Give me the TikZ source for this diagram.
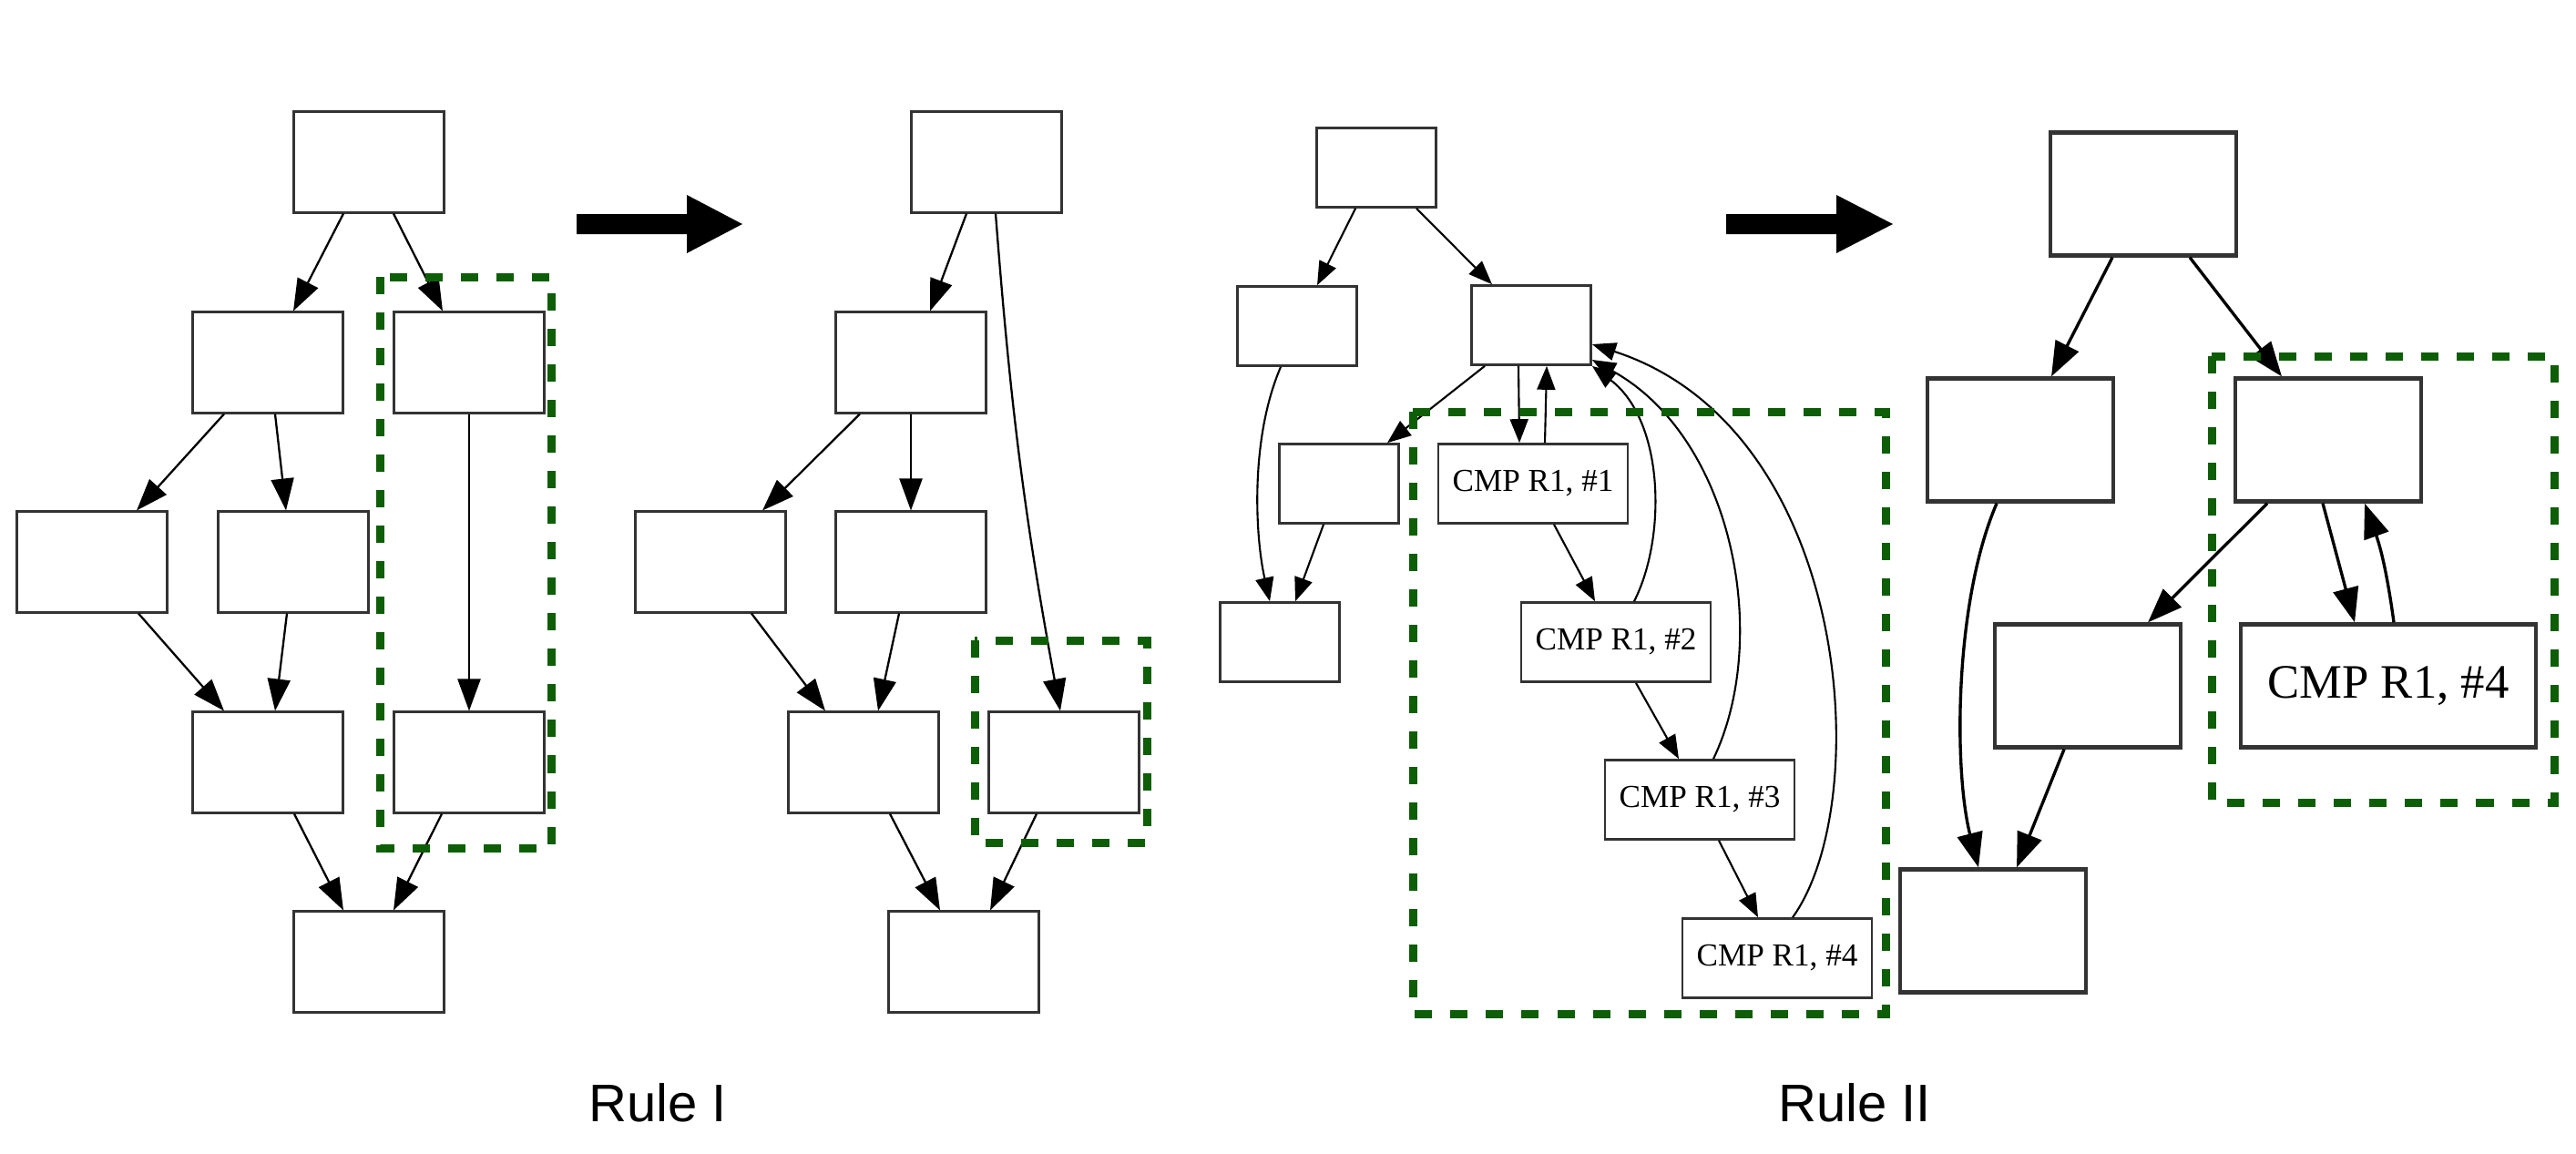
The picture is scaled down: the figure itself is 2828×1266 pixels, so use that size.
\documentclass[tikz,border=0pt]{standalone}
\usepackage{fontspec}
\setmainfont{Liberation Serif}
\newfontfamily\rulefont{Liberation Sans}
\usetikzlibrary{arrows.meta,calc}
\definecolor{groupgreen}{RGB}{14,94,8}

\begin{document}
\begin{tikzpicture}[x=0.01cm, y=-0.01cm,
	box/.style={draw=black!80, line width=0.85pt, fill=white, minimum width=1.65cm, minimum height=1.1cm, inner sep=0pt},
	smallbox/.style={box, line width=0.75pt, minimum width=1.31cm, minimum height=0.87cm},
	cmpbox/.style={smallbox, minimum width=2.08cm, font=\fontsize{10}{12}\selectfont},
	bigbox/.style={box, line width=1.2pt, minimum width=2.045cm, minimum height=1.35cm},
	bigcmp/.style={bigbox, minimum width=3.235cm, font=\fontsize{15}{18}\selectfont},
	edge/.style={-{Triangle[length=0.35cm,width=0.25cm]}, line width=0.65pt},
	smalledge/.style={-{Triangle[length=0.26cm,width=0.2cm]}, line width=0.6pt},
	bigedge/.style={-{Triangle[length=0.38cm,width=0.28cm]}, line width=0.95pt},
	group/.style={draw=groupgreen, line width=0.09cm, dash pattern=on 0.19cm off 0.2cm},
	bigarrow/.style={fill=black},
	rulelabel/.style={anchor=base, font=\rulefont\fontsize{16.5}{20}\selectfont}]
	\useasboundingbox (0,0) rectangle (2828,1266);
	
	% Rule I, before
	\node[box] (A1) at (405,178) {};
	\node[box] (B1) at (294,398) {};
	\node[box] (C1) at (515,398) {};
	\node[box] (D1) at (101,617) {};
	\node[box] (E1) at (322,617) {};
	\node[box] (F1) at (294,837) {};
	\node[box] (G1) at (515,837) {};
	\node[box] (H1) at (405,1056) {};
	\draw[edge] ($(A1.south)+(-28,0)$) -- ($(B1.north)+(28,0)$);
	\draw[edge] ($(A1.south)+(27,0)$) -- ($(C1.north)+(-29,0)$);
	\draw[edge] ($(B1.south)+(-48,0)$) -- ($(D1.north)+(49,0)$);
	\draw[edge] ($(B1.south)+(8,0)$) -- ($(E1.north)+(-8,0)$);
	\draw[edge] (C1.south) -- (G1.north);
	\draw[edge] ($(D1.south)+(51,0)$) -- ($(F1.north)+(-48,0)$);
	\draw[edge] ($(E1.south)+(-7,0)$) -- ($(F1.north)+(8,0)$);
	\draw[edge] ($(F1.south)+(29,0)$) -- ($(H1.north)+(-28,0)$);
	\draw[edge] ($(G1.south)+(-30,0)$) -- ($(H1.north)+(27,0)$);
	\draw[group] (417,304) rectangle (605,931);
	
	% arrow
	\fill[bigarrow] (633,235) -- (754,235) -- (754,214) -- (815,246) -- (754,278) -- (754,257) -- (633,257) -- cycle;
	
	% Rule I, after
	\node[box] (A2) at (1083,178) {};
	\node[box] (B2) at (1000,398) {};
	\node[box] (D2) at (780,617) {};
	\node[box] (E2) at (1000,617) {};
	\node[box] (F2) at (948,837) {};
	\node[box] (G2) at (1168,837) {};
	\node[box] (H2) at (1058,1056) {};
	\draw[edge] ($(A2.south)+(-22,0)$) -- ($(B2.north)+(21,0)$);
	\draw[edge] ($(A2.south)+(10,0)$) to[bend right=3] ($(G2.north)+(-4,0)$);
	\draw[edge] ($(B2.south)+(-56,0)$) -- ($(D2.north)+(57,0)$);
	\draw[edge] (B2.south) -- (E2.north);
	\draw[edge] ($(D2.south)+(45,0)$) -- ($(F2.north)+(-42,0)$);
	\draw[edge] ($(E2.south)+(-13,0)$) -- ($(F2.north)+(16,0)$);
	\draw[edge] ($(F2.south)+(29,0)$) -- ($(H2.north)+(-26,0)$);
	\draw[edge] ($(G2.south)+(-30,0)$) -- ($(H2.north)+(29,0)$);
	\draw[group] (1070,703) rectangle (1259,925);
	
	\node[rulelabel] (rule1) at (722,1231) {Rule I};
	
	% Rule II, before
	\node[smallbox] (P3) at (1511,184) {};
	\node[smallbox] (Q3) at (1424,358) {};
	\node[smallbox] (R3) at (1681,357) {};
	\node[smallbox] (S3) at (1470,531) {};
	\node[smallbox] (T3) at (1405,705) {};
	\node[cmpbox] (K1) at (1683,531) {CMP R1, \#1};
	\node[cmpbox] (K2) at (1774,705) {CMP R1, \#2};
	\node[cmpbox] (K3) at (1866,878) {CMP R1, \#3};
	\node[cmpbox] (K4) at (1951,1052) {CMP R1, \#4};
	\draw[smalledge] ($(P3.south)+(-23,0)$) -- ($(Q3.north)+(22,0)$);
	\draw[smalledge] ($(P3.south)+(44,0)$) -- ($(R3.north)+(-43,0)$);
	\draw[smalledge] ($(Q3.south)+(-18,0)$) .. controls +(-34,79) and +(-16,-71) .. ($(T3.north)+(-11,0)$);
	\draw[smalledge] ($(S3.south)+(-17,0)$) -- ($(T3.north)+(17,0)$);
	\draw[smalledge] ($(R3.south)+(-51,0)$) -- ($(S3.north)+(53,0)$);
	\draw[smalledge] ($(R3.south)+(-14,0)$) -- ($(K1.north)+(-15,0)$);
	\draw[smalledge] ($(K1.north)+(13,0)$) -- ($(R3.south)+(17,0)$);
	\draw[smalledge] ($(K1.south)+(23,0)$) -- ($(K2.north)+(-23,0)$);
	\draw[smalledge] ($(K2.south)+(22,0)$) -- ($(K3.north)+(-23,0)$);
	\draw[smalledge] ($(K3.south)+(21,0)$) -- ($(K4.north)+(-21,0)$);
	\draw[smalledge] ($(K2.north)+(20,0)$) .. controls +(36,-71) and +(79,60) .. (R3.south east);
	\draw[smalledge] ($(K3.north)+(15,0)$) .. controls +(64,-134) and +(154,85) .. ($(R3.east)+(0,38)$);
	\draw[smalledge] ($(K4.north)+(17,0)$) .. controls +(92,-128) and +(284,92) .. ($(R3.east)+(0,21)$);
	\draw[group] (1551,452) rectangle (2070,1113);
	
	% arrow
	\fill[bigarrow] (1895,235) -- (2016,235) -- (2016,214) -- (2078,246) -- (2016,278) -- (2016,257) -- (1895,257) -- cycle;
	
	% Rule II, after
	\node[bigbox] (P4) at (2353,213) {};
	\node[bigbox] (Q4) at (2218,483) {};
	\node[bigbox] (R4) at (2556,483) {};
	\node[bigbox] (S4) at (2292,753) {};
	\node[bigbox] (T4) at (2188,1022) {};
	\node[bigcmp] (K5) at (2622,753) {CMP R1, \#4};
	\draw[bigedge] ($(P4.south)+(-34,0)$) -- ($(Q4.north)+(34,0)$);
	\draw[bigedge] ($(P4.south)+(51,0)$) -- ($(R4.north)+(-51,0)$);
	\draw[bigedge] ($(Q4.south)+(-26,0)$) .. controls +(-47,109) and +(-27,-105) .. ($(T4.north)+(-16,0)$);
	\draw[bigedge] ($(S4.south)+(-26,0)$) -- ($(T4.north)+(26,0)$);
	\draw[bigedge] ($(R4.south)+(-67,0)$) -- ($(S4.north)+(66,0)$);
	\draw[bigedge] ($(R4.south)+(-6,0)$) -- ($(K5.north)+(-37,0)$);
	\draw[bigedge] ($(K5.north)+(6,0)$) to[bend right=6] ($(R4.south)+(40,0)$);
	\draw[group] (2428,391) rectangle (2804,881);
	
	\node[rulelabel] (rule2) at (2036,1231) {Rule II};
	
\end{tikzpicture}
\end{document}
